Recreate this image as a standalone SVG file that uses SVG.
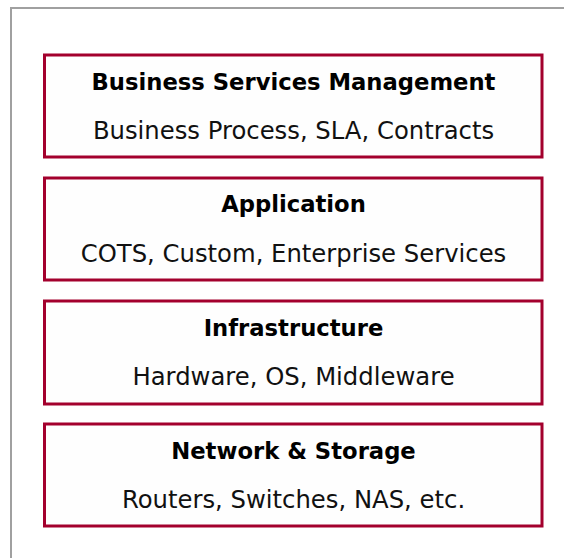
<svg xmlns="http://www.w3.org/2000/svg" width="564" height="558" viewBox="0 0 564 558">
<style>
.frame{fill:none;stroke:#a0a0a0;stroke-width:2}
.box{fill:#fefefe;stroke:#a3002d;stroke-width:3}
.t{font-family:"DejaVu Sans",Verdana,sans-serif;font-weight:bold;font-size:22.7px;fill:#000;text-anchor:middle}
.s{font-family:"DejaVu Sans",Verdana,sans-serif;font-size:24.3px;fill:#111;text-anchor:middle}
</style>
<rect width="564" height="558" fill="#ffffff"/>
<path class="frame" d="M11 558 V8 H564"/>
<g id="business-services-management">
<rect class="box" x="44.5" y="55" width="497.5" height="102"/>
<text class="t" x="293.5" y="90">Business Services Management</text>
<text class="s" x="293.5" y="139">Business Process, SLA, Contracts</text>
</g>
<g id="application">
<rect class="box" x="44.5" y="178" width="497.5" height="102"/>
<text class="t" x="293.5" y="212">Application</text>
<text class="s" x="293.5" y="262">COTS, Custom, Enterprise Services</text>
</g>
<g id="infrastructure">
<rect class="box" x="44.5" y="301" width="497.5" height="103"/>
<text class="t" x="293.5" y="336">Infrastructure</text>
<text class="s" x="293.5" y="385">Hardware, OS, Middleware</text>
</g>
<g id="network-storage">
<rect class="box" x="44.5" y="424" width="497.5" height="102"/>
<text class="t" x="293.5" y="459">Network &amp; Storage</text>
<text class="s" x="293.5" y="508">Routers, Switches, NAS, etc.</text>
</g>
<g id="connectors"/>
</svg>
